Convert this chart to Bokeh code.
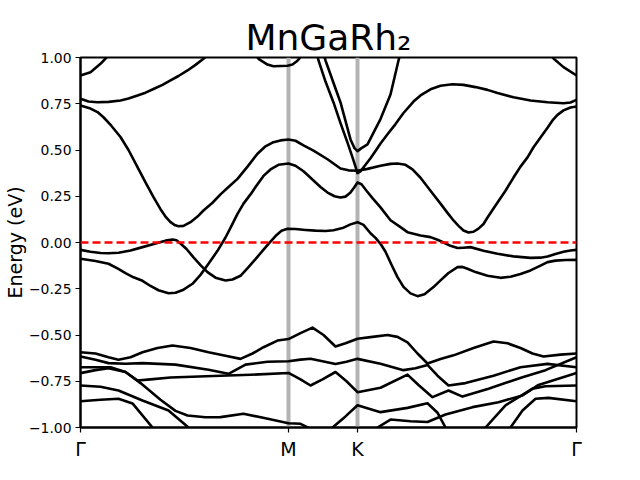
from bokeh.plotting import figure
from bokeh.models import Span, FixedTicker
from bokeh.embed import file_html
from bokeh.resources import INLINE

# high-symmetry points (k-path distance, arbitrary units)
hs_k = [0.0, 2.08, 2.77, 4.96]
hs_labels = ["Γ", "M", "K", "Γ"]
y_ticks = [-1.0, -0.75, -0.5, -0.25, 0.0, 0.25, 0.5, 0.75, 1.0]

# band curves: k positions and energies (eV)
bA_k = [0.00, 0.10, 0.20, 0.26, 0.35]
bA_e = [0.903, 0.92, 0.966, 1.0, 1.05]
bA2_k = [4.65, 4.73, 4.83, 4.96]
bA2_e = [1.04, 0.995, 0.948, 0.903]
bB_k = [0.00, 0.08, 0.17, 0.28, 0.40, 0.48, 0.57, 0.65, 0.73, 0.82, 0.90, 0.98, 1.07,
        1.15, 1.23, 1.30]
bB_e = [0.777, 0.762, 0.758, 0.76, 0.768, 0.778, 0.795, 0.81, 0.83, 0.852, 0.876, 0.90,
        0.93, 0.96, 0.993, 1.03]
bF_k = [1.70, 1.78, 1.87, 1.93, 2.07, 2.12, 2.16, 2.19, 2.23]
bF_e = [1.05, 0.993, 0.962, 0.953, 0.955, 0.962, 0.978, 0.995, 1.04]
bC_k = [0.00, 0.10, 0.17, 0.23, 0.31, 0.40, 0.48, 0.57, 0.65, 0.73, 0.80, 0.85, 0.90,
        0.94, 0.98, 1.03, 1.10, 1.17, 1.23, 1.32, 1.40, 1.48, 1.57, 1.67, 1.77, 1.85,
        1.92, 2.00, 2.08, 2.15, 2.23, 2.33, 2.47, 2.60, 2.68, 2.77, 2.87, 3.00, 3.10,
        3.17, 3.25, 3.32, 3.40, 3.50, 3.60, 3.67, 3.73, 3.78, 3.83, 3.88, 3.93, 3.98,
        4.03, 4.07, 4.15, 4.25, 4.33, 4.40, 4.47, 4.53, 4.60, 4.67, 4.72, 4.77, 4.83,
        4.90, 4.96]
bC_e = [0.74, 0.724, 0.705, 0.677, 0.63, 0.57, 0.50, 0.407, 0.325, 0.245, 0.18, 0.14,
        0.11, 0.095, 0.088, 0.09, 0.11, 0.14, 0.173, 0.215, 0.26, 0.30, 0.344, 0.41,
        0.48, 0.52, 0.54, 0.552, 0.557, 0.55, 0.525, 0.497, 0.45, 0.40, 0.39, 0.388,
        0.398, 0.415, 0.425, 0.427, 0.42, 0.395, 0.35, 0.28, 0.21, 0.16, 0.119, 0.09,
        0.065, 0.054, 0.058, 0.075, 0.10, 0.135, 0.20, 0.28, 0.351, 0.41, 0.46, 0.515,
        0.568, 0.62, 0.66, 0.69, 0.714, 0.73, 0.735]
bV_k = [2.32, 2.38, 2.45, 2.53, 2.60, 2.67, 2.72, 2.75, 2.77, 2.80, 2.85, 2.90, 2.95,
        3.00, 3.07, 3.15, 3.23, 3.33, 3.40, 3.50, 3.60, 3.72, 3.83, 3.95, 4.07, 4.17,
        4.33, 4.50, 4.67, 4.83, 4.90, 4.96]
bV_e = [1.12, 0.984, 0.87, 0.757, 0.645, 0.54, 0.46, 0.41, 0.375, 0.385, 0.42, 0.455,
        0.495, 0.535, 0.585, 0.64, 0.70, 0.762, 0.795, 0.828, 0.847, 0.855, 0.852,
        0.84, 0.825, 0.808, 0.785, 0.768, 0.758, 0.753, 0.757, 0.771]
bU_k = [2.38, 2.45, 2.60, 2.70, 2.74, 2.77, 2.81, 2.87, 3.00, 3.10, 3.18, 3.22]
bU_e = [1.12, 0.984, 0.757, 0.557, 0.51, 0.494, 0.51, 0.53, 0.667, 0.80, 0.984, 1.06]
bE_k = [0.00, 0.15, 0.28, 0.37, 0.45, 0.53, 0.62, 0.70, 0.78, 0.88, 0.95, 1.03, 1.12,
        1.20, 1.28, 1.37, 1.45, 1.51, 1.57, 1.63, 1.70, 1.77, 1.83, 1.90, 1.98, 2.08,
        2.15, 2.23, 2.33, 2.40, 2.47, 2.54, 2.60, 2.65, 2.70, 2.74, 2.77, 2.81, 2.86,
        2.92, 3.00, 3.10, 3.20, 3.27, 3.35, 3.40, 3.50, 3.57, 3.63, 3.70, 3.77, 3.83,
        3.90, 4.03, 4.17, 4.33, 4.50, 4.60, 4.67, 4.75, 4.83, 4.90, 4.96]
bE_e = [-0.088, -0.10, -0.115, -0.14, -0.165, -0.188, -0.207, -0.235, -0.258, -0.274,
        -0.272, -0.255, -0.223, -0.175, -0.115, -0.045, 0.027, 0.09, 0.155, 0.21, 0.26,
        0.315, 0.36, 0.395, 0.42, 0.427, 0.415, 0.385, 0.335, 0.30, 0.27, 0.25, 0.243,
        0.248, 0.27, 0.30, 0.324, 0.315, 0.28, 0.24, 0.19, 0.12, 0.083, 0.056, 0.045,
        0.038, 0.029, 0.015, 0.0, -0.018, -0.03, -0.028, -0.025, -0.045, -0.061,
        -0.075, -0.083, -0.082, -0.076, -0.062, -0.05, -0.043, -0.04]
bD_k = [0.00, 0.10, 0.20, 0.28, 0.38, 0.50, 0.62, 0.75, 0.85, 0.92, 0.96, 1.00, 1.06,
        1.13, 1.20, 1.27, 1.35, 1.45, 1.52, 1.60, 1.68, 1.75, 1.82, 1.88, 1.95, 2.01,
        2.07, 2.15, 2.25, 2.35, 2.45, 2.53, 2.62, 2.70, 2.77, 2.83, 2.90, 2.95, 3.00,
        3.05, 3.11, 3.17, 3.23, 3.30, 3.37, 3.44, 3.53, 3.60, 3.68, 3.77, 3.82, 3.87,
        3.95, 4.07, 4.20, 4.30, 4.40, 4.50, 4.60, 4.67, 4.75, 4.85, 4.96]
bD_e = [-0.04, -0.05, -0.057, -0.058, -0.055, -0.043, -0.025, -0.005, 0.01, 0.016,
        0.012, -0.005, -0.035, -0.08, -0.122, -0.16, -0.19, -0.205, -0.2, -0.18,
        -0.133, -0.09, -0.045, -0.007, 0.035, 0.063, 0.074, 0.073, 0.068, 0.064, 0.062,
        0.066, 0.078, 0.098, 0.11, 0.095, 0.05, 0.025, -0.007, -0.05, -0.12, -0.187,
        -0.24, -0.275, -0.29, -0.28, -0.241, -0.205, -0.165, -0.133, -0.132, -0.142,
        -0.16, -0.18, -0.191, -0.185, -0.17, -0.151, -0.125, -0.106, -0.098, -0.095,
        -0.094]
bL1_k = [0.00, 0.15, 0.28, 0.38, 0.50, 0.62, 0.77, 0.92, 1.10, 1.28, 1.45, 1.60, 1.72,
         1.83, 1.97, 2.08, 2.20, 2.32, 2.43, 2.55, 2.65, 2.77, 2.92, 3.07, 3.17, 3.27,
         3.37, 3.47, 3.60, 3.73, 3.93, 4.13, 4.27, 4.40, 4.52, 4.63, 4.80, 4.96]
bL1_e = [-0.593, -0.60, -0.62, -0.634, -0.62, -0.593, -0.57, -0.557, -0.57, -0.593,
         -0.612, -0.629, -0.60, -0.566, -0.53, -0.522, -0.49, -0.46, -0.50, -0.562,
         -0.545, -0.52, -0.51, -0.50, -0.51, -0.54, -0.60, -0.654, -0.63, -0.61,
         -0.57, -0.535, -0.545, -0.57, -0.60, -0.616, -0.606, -0.60]
bL2_k = [0.00, 0.15, 0.28, 0.45, 0.62, 0.95, 1.28, 1.48, 1.65, 1.87, 2.08, 2.20, 2.30,
         2.42, 2.55, 2.66, 2.77, 3.00, 3.23, 3.35, 3.47, 3.57, 3.68, 3.85, 4.13, 4.40,
         4.67, 4.96]
bL2_e = [-0.616, -0.634, -0.652, -0.655, -0.652, -0.66, -0.688, -0.71, -0.66, -0.645,
         -0.642, -0.633, -0.628, -0.642, -0.657, -0.645, -0.629, -0.655, -0.69, -0.68,
         -0.662, -0.72, -0.773, -0.76, -0.72, -0.674, -0.656, -0.674]
bL3_k = [0.00, 0.30, 0.45, 0.57, 0.70, 0.90, 1.40, 1.70, 2.08, 2.20, 2.30, 2.42, 2.55,
         2.66, 2.77, 3.00, 3.27, 3.38, 3.52, 3.68, 3.82, 4.08, 4.42, 4.65, 4.96]
bL3_e = [-0.674, -0.674, -0.70, -0.746, -0.74, -0.73, -0.72, -0.715, -0.705, -0.74,
         -0.773, -0.74, -0.70, -0.75, -0.809, -0.785, -0.714, -0.77, -0.836, -0.80,
         -0.833, -0.79, -0.728, -0.69, -0.62]
bL4_k = [0.00, 0.15, 0.28, 0.45, 0.60, 0.80, 0.95, 1.07, 1.25, 1.40, 1.63, 1.85, 2.08,
         2.20, 2.35]
bL4_e = [-0.706, -0.69, -0.68, -0.70, -0.76, -0.85, -0.91, -0.935, -0.945, -0.944,
         -0.926, -0.95, -0.977, -0.98, -1.02]
bL5_k = [0.00, 0.20, 0.38, 0.62, 0.88, 1.08, 1.15]
bL5_e = [-0.773, -0.78, -0.80, -0.854, -0.908, -1.0, -1.05]
bL6_k = [0.00, 0.20, 0.38, 0.52, 0.72, 0.78]
bL6_e = [-0.858, -0.85, -0.845, -0.87, -1.0, -1.05]
bL7_k = [2.45, 2.52, 2.65, 2.77, 3.00, 3.27, 3.47, 3.57, 3.65, 3.70]
bL7_e = [-1.05, -1.0, -0.94, -0.88, -0.917, -0.894, -0.869, -0.92, -1.0, -1.05]
bL8_k = [2.90, 2.97, 3.10, 3.30, 3.47, 3.65, 3.92, 4.18, 4.42, 4.58, 4.96]
bL8_e = [-1.05, -1.0, -0.957, -0.966, -0.97, -0.93, -0.89, -0.863, -0.827, -0.77,
         -0.706]
bL9_k = [3.98, 4.05, 4.25, 4.52, 4.65, 4.96]
bL9_e = [-1.05, -1.0, -0.88, -0.79, -0.777, -0.773]
bL10_k = [4.24, 4.30, 4.42, 4.55, 4.68, 4.96]
bL10_e = [-1.05, -1.0, -0.908, -0.845, -0.84, -0.858]

bands = [(bA_k, bA_e), (bA2_k, bA2_e), (bB_k, bB_e), (bF_k, bF_e), (bC_k, bC_e),
         (bV_k, bV_e), (bU_k, bU_e), (bE_k, bE_e), (bD_k, bD_e), (bL1_k, bL1_e),
         (bL2_k, bL2_e), (bL3_k, bL3_e), (bL4_k, bL4_e), (bL5_k, bL5_e),
         (bL6_k, bL6_e), (bL7_k, bL7_e), (bL8_k, bL8_e), (bL9_k, bL9_e),
         (bL10_k, bL10_e)]

p = figure(width=640, height=480, x_range=(hs_k[0], hs_k[-1]), y_range=(-1, 1),
           output_backend="svg", toolbar_location=None,
           min_border_left=80, min_border_right=64, min_border_top=57,
           min_border_bottom=53, title="MnGaRh₂")
p.title.text_font = "DejaVu Sans"
p.title.text_font_size = "36px"
p.title.text_font_style = "normal"
p.title.text_color = "black"
p.title.align = "center"
p.title.standoff = 0
p.grid.visible = False
p.background_fill_color = "white"
p.border_fill_color = "white"
p.outline_line_color = "black"
p.outline_line_width = 2
p.outline_line_alpha = 1

for loc in hs_k[1:-1]:
    p.add_layout(Span(location=loc, dimension="height", line_color="#b3b3b3",
                      line_width=4, level="underlay"))
p.add_layout(Span(location=0, dimension="width", line_color="red", line_width=2.5,
                  line_dash="8 4"))

for kk, ee in bands:
    p.line(kk, ee, line_color="black", line_width=2.6, line_join="round",
           line_cap="round")

p.xaxis.ticker = FixedTicker(ticks=hs_k)
p.xaxis.major_label_overrides = {k: lab for k, lab in zip(hs_k, hs_labels)}
p.yaxis.ticker = FixedTicker(ticks=y_ticks)
p.yaxis.major_label_overrides = {t: ("−" if t < 0 else "") + f"{abs(t):.2f}"
                                 for t in y_ticks}
for ax in (p.xaxis[0], p.yaxis[0]):
    ax.axis_line_color = "black"
    ax.axis_line_width = 2
    ax.major_tick_in = 0
    ax.major_tick_out = 5
    ax.major_tick_line_width = 1.2
    ax.minor_tick_line_color = None
    ax.major_label_text_font = "DejaVu Sans"
    ax.major_label_text_color = "black"
p.yaxis.major_label_text_font_size = "13.9px"
p.yaxis.major_label_standoff = 4
p.xaxis.major_label_text_font_size = "19px"
p.yaxis.axis_label = "Energy (eV)"
p.yaxis.axis_label_text_font = "DejaVu Sans"
p.yaxis.axis_label_text_font_size = "19px"
p.yaxis.axis_label_text_font_style = "normal"
p.yaxis.axis_label_text_color = "black"
p.yaxis.axis_label_standoff = 0

open("out.html", "w").write(file_html(p, INLINE))
